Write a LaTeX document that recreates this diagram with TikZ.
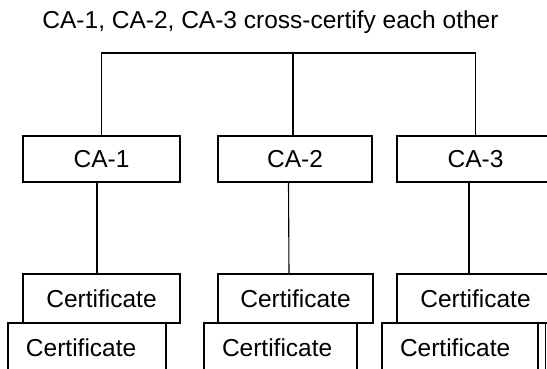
\documentclass[tikz,border=0pt]{standalone}
\usepackage{fontspec}
\setmainfont{Liberation Sans}
\usepackage{tikz}
\usetikzlibrary{positioning,calc}

\begin{document}
\begin{tikzpicture}[
                    x = 1pt, y = -1pt,
                    line width = 1.1pt,
                    every node/.style = {font = \fontsize{24.5}{29}\selectfont, inner sep = 0pt},
                    cabox/.style = {draw, minimum width = 157pt, minimum height = 46pt},
                    certbox/.style = {draw, minimum width = 157pt, minimum height = 49pt},
                    certback/.style = {draw, minimum height = 49pt, text width = 122pt,
                                       inner xsep = 18pt, align = left}
                ]

                \useasboundingbox (0,0) rectangle (547,369);
                \clip (0,0) rectangle (547,369);

                \node[anchor = base] (title) at (270.5,29) {CA-1, CA-2, CA-3 cross-certify each other};

                % the three CAs
                \node[cabox] (ca1) at (101.5,159) {CA-1};
                \node[cabox, minimum width = 154pt] (ca2) at (295,159) {CA-2};
                \node[cabox] (ca3) at (475.5,159) {CA-3};

                % cross-certification bus
                \coordinate (bus) at (0,53);
                \draw (ca1.north) |- (ca3.north |- bus) -- (ca3.north);
                \draw ([xshift=-2pt]ca2.north) -- ([xshift=-2pt]ca2.north |- bus);

                % certificate stacks under each CA
                \node[certbox] (cert1) at (101.5,298.5) {Certificate};
                \node[certbox, minimum width = 155pt] (cert2) at (295.5,298.5) {Certificate};
                \node[certbox] (cert3) at (475.5,298.5) {Certificate};

                \node[certback] (back1) at (87,347.5) {Certificate};
                \node[certback, text width = 117pt] (back2) at (280.5,347.5) {Certificate};
                \node[certback, text width = 120pt] (back3) at (460,347.5) {Certificate};
                \draw (545.5,323) -- (545.5,369);

                \draw ([xshift=-4.5pt]ca1.south) -- ([xshift=-4.5pt]cert1.north);
                \draw ([xshift=-6.5pt]ca2.south) -- ([xshift=-6.5pt]cert2.north);
                \draw ([xshift=-6.5pt]ca3.south) -- ([xshift=-6.5pt]cert3.north);

            \end{tikzpicture}
\end{document}
